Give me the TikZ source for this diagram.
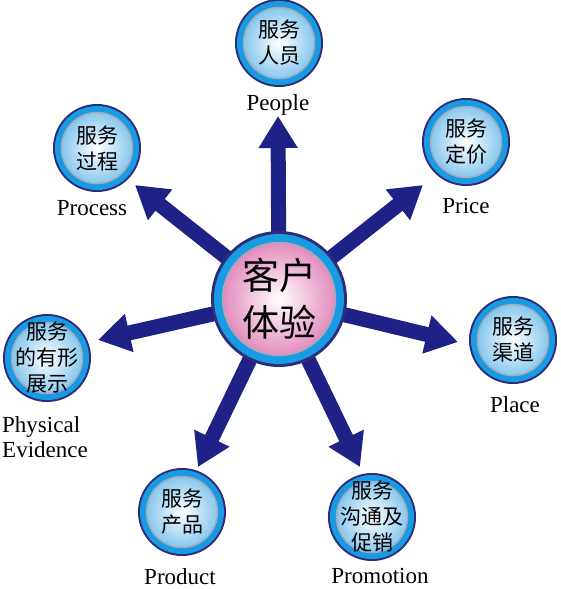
\documentclass[tikz,border=0pt]{standalone}
\usepackage{fontspec}
\setmainfont{Liberation Serif}
\newfontfamily\cjk{Noto Sans CJK SC}
\usetikzlibrary{arrows.meta}
\definecolor{cxNavy}{RGB}{32,33,135}
\definecolor{cxRim} {RGB}{45,45,120}
\definecolor{cxBlue}{RGB}{25,155,228}
\definecolor{cxGrey}{RGB}{165,170,185}
\definecolor{cxSky} {RGB}{135,200,238}
\definecolor{cxPink}{RGB}{226,140,188}
\tikzset{
  spoke/.style={cxNavy,line width=15pt,-{Triangle[width=37pt,length=32pt]}},
  ball/.style={circle,minimum size=71pt,inner sep=-18pt,align=center,
    font=\cjk\fontsize{21}{26}\selectfont,
    preaction={draw=cxRim,line width=17pt},
    preaction={draw=cxBlue,line width=13pt},
    inner color=white,outer color=cxSky,draw=cxGrey,line width=1.5pt},
  hubball/.style={circle,minimum size=113pt,inner sep=-12pt,align=center,
    font=\cjk\fontsize{37}{47}\selectfont,
    preaction={draw=cxRim,line width=23pt},
    preaction={draw=cxBlue,line width=17pt},
    inner color=white,outer color=cxPink,draw=cxGrey,line width=1.5pt},
  tag/.style={font=\fontsize{23}{25}\selectfont,inner sep=0pt}
}
\begin{document}
\begin{tikzpicture}[x=1pt,y=-1pt]
\useasboundingbox (0,0) rectangle (560,589);
% Seven service elements
\node[ball] (people)   at (279,43)  {服务\\人员};
\node[ball] (price)    at (466,142) {服务\\定价};
\node[ball] (place)    at (513,340) {服务\\渠道};
\node[ball] (promo)    at (372,517) {服务\\沟通及\\促销};
\node[ball] (product)  at (182,512) {服务\\产品};
\node[ball] (evidence) at (47,358)  {服务\\的有形\\展示};
\node[ball] (process)  at (97,148)  {服务\\过程};
% Arrow tips
\coordinate (hub) at (279,299);
\coordinate (people-tip)   at (278,116);
\coordinate (price-tip)    at (423,185);
\coordinate (place-tip)    at (458,342);
\coordinate (promo-tip)    at (360,467);
\coordinate (product-tip)  at (198,467);
\coordinate (evidence-tip) at (98,340);
\coordinate (process-tip)  at (135,185);
% Arrows first, the hub is laid over their tails
\foreach \nm in {people,price,place,promo,product,evidence,process}
  \draw[spoke] (hub) -- (\nm-tip);
\node[hubball] (core) at (hub) {客户\\体验};
% English names
\node[tag,anchor=base] (people-tag)  at (278,110) {People};
\node[tag,anchor=base] (price-tag)   at (466,213) {Price};
\node[tag,anchor=base] (place-tag)   at (515,412) {Place};
\node[tag,anchor=base] (promo-tag)   at (380,583) {Promotion};
\node[tag,anchor=base] (product-tag) at (180,584) {Product};
\node[tag,anchor=base] (process-tag) at (92,215)  {Process};
\node[tag,align=left,anchor=north west] (evidence-tag) at (2,416)
  {Physical\\Evidence};
\end{tikzpicture}
\end{document}
